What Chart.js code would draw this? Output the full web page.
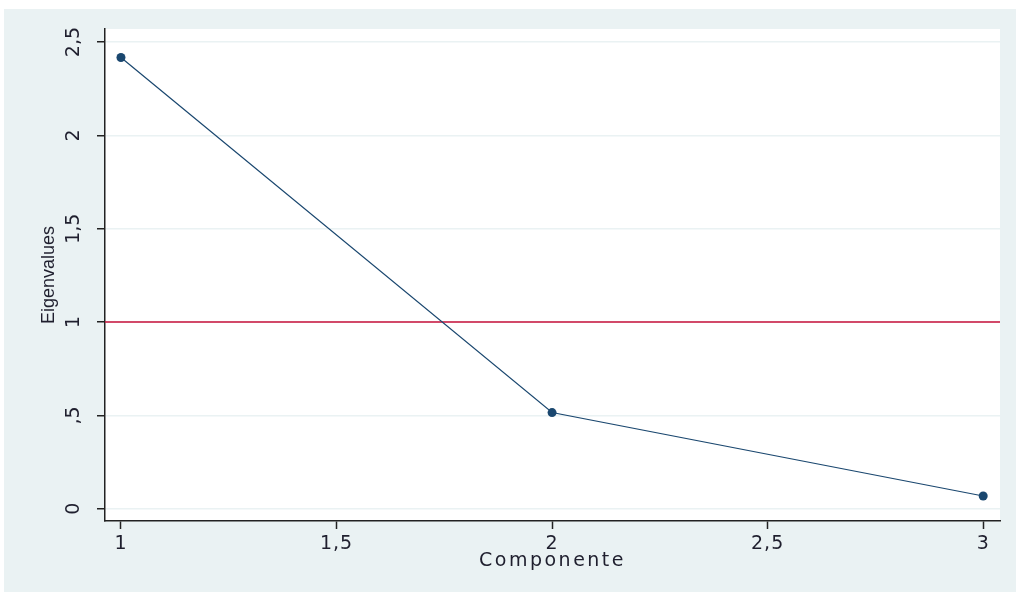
<!DOCTYPE html>
<html>
<head>
<meta charset="utf-8">
<title>Scree plot</title>
<script src="https://cdn.jsdelivr.net/npm/chart.js@4.4.1/dist/chart.umd.min.js"></script>
<style>
  html, body { margin: 0; padding: 0; background: #fff; }
  #wrap { width: 1016px; height: 597px; }
</style>
</head>
<body>
<div id="wrap"><canvas id="screeChart" width="1016" height="597"></canvas></div>
<script>
// ── DATA ─────────────────────────────────────────────────────
const components = [1, 2, 3];
const eigenvalues = [2.417, 0.515, 0.068];
const refLevel = 1; // Kaiser criterion line

const xTicks = [1, 1.5, 2, 2.5, 3];
const xTickLabels = ['1', '1,5', '2', '2,5', '3'];
const yTicks = [0, 0.5, 1, 1.5, 2, 2.5];
const yTickLabels = ['0', ',5', '1', '1,5', '2', '2,5'];

const xRange = [0.963, 3.039];
const yRange = [-0.066, 2.57];

// ── STYLE ────────────────────────────────────────────────────
const BG_OUTER = '#eaf2f3';
const NAVY = '#1a476f';
const RED = '#c8103a';
const TEXT = '#1f1f2e';
const FONT = "'Liberation Sans', Arial, sans-serif";
const WIDE_FONT = "'DejaVu Sans', Verdana, sans-serif";

// x axis text in the original is drawn wider than normal
class WideLinearScale extends Chart.LinearScale {
    drawLabels(area) {
        this.ctx.save();
        this.ctx.letterSpacing = '1px';
        super.drawLabels(area);
        this.ctx.restore();
    }
    drawTitle() {
        this.ctx.save();
        this.ctx.letterSpacing = '2.5px';
        super.drawTitle();
        this.ctx.restore();
    }
}
WideLinearScale.id = 'wideLinear';
WideLinearScale.defaults = Chart.LinearScale.defaults;
Chart.register(WideLinearScale);

const backgroundPlugin = {
    id: 'stataBackground',
    beforeDraw(chart) {
        const { ctx, chartArea: a } = chart;
        ctx.save();
        ctx.fillStyle = '#fff';
        ctx.fillRect(0, 0, chart.width, chart.height);
        ctx.fillStyle = BG_OUTER;
        ctx.fillRect(4, 9, chart.width - 4, chart.height - 14);
        ctx.fillStyle = '#fff';
        ctx.fillRect(a.left, a.top, a.right - a.left, a.bottom - a.top);
        ctx.restore();
    }
};

new Chart(document.getElementById('screeChart'), {
    type: 'line',
    data: {
        datasets: [
            {
                label: 'Eigenvalues',
                data: components.map((c, i) => ({ x: c, y: eigenvalues[i] })),
                borderColor: NAVY,
                borderWidth: 1.2,
                pointRadius: 4.5,
                pointBackgroundColor: NAVY,
                pointBorderWidth: 0,
                tension: 0
            },
            {
                label: 'ref',
                data: xRange.map(x => ({ x: x, y: refLevel })),
                borderColor: RED,
                borderWidth: 1.6,
                pointRadius: 0
            }
        ]
    },
    options: {
        responsive: false,
        animation: false,
        devicePixelRatio: 1,
        layout: { padding: { left: 4, top: 29, right: 16, bottom: 5 } },
        plugins: { legend: { display: false }, tooltip: { enabled: false } },
        scales: {
            x: {
                type: 'wideLinear',
                min: xRange[0], max: xRange[1],
                afterBuildTicks: s => { s.ticks = xTicks.map(v => ({ value: v })); },
                afterFit: s => { s.height = 71; },
                ticks: {
                    autoSkip: false, maxRotation: 0, padding: 4,
                    color: TEXT, font: { family: WIDE_FONT, size: 19 },
                    callback: (v, i) => xTickLabels[i]
                },
                grid: { drawOnChartArea: false, tickColor: '#222', tickLength: 8, tickWidth: 1.5 },
                border: { color: '#222', width: 1.5 },
                title: {
                    display: true, text: 'Componente', color: TEXT,
                    font: { family: WIDE_FONT, size: 19 }, padding: { top: 0, bottom: 20 }
                }
            },
            y: {
                type: 'linear',
                min: yRange[0], max: yRange[1],
                afterBuildTicks: s => { s.ticks = yTicks.map(v => ({ value: v })); },
                afterFit: s => { s.width = 101; },
                ticks: {
                    autoSkip: false, minRotation: 90, maxRotation: 90,
                    crossAlign: 'center', padding: 8,
                    color: TEXT, font: { family: WIDE_FONT, size: 19 },
                    callback: (v, i) => yTickLabels[i]
                },
                grid: { color: BG_OUTER, lineWidth: 1.5, tickColor: '#222', tickLength: 8, tickWidth: 1.5 },
                border: { color: '#222', width: 1.5 },
                title: {
                    display: true, text: 'Eigenvalues', color: TEXT,
                    font: { family: FONT, size: 18 }, padding: { top: 34, bottom: 0 }
                }
            }
        }
    },
    plugins: [backgroundPlugin]
});
</script>
</body>
</html>
